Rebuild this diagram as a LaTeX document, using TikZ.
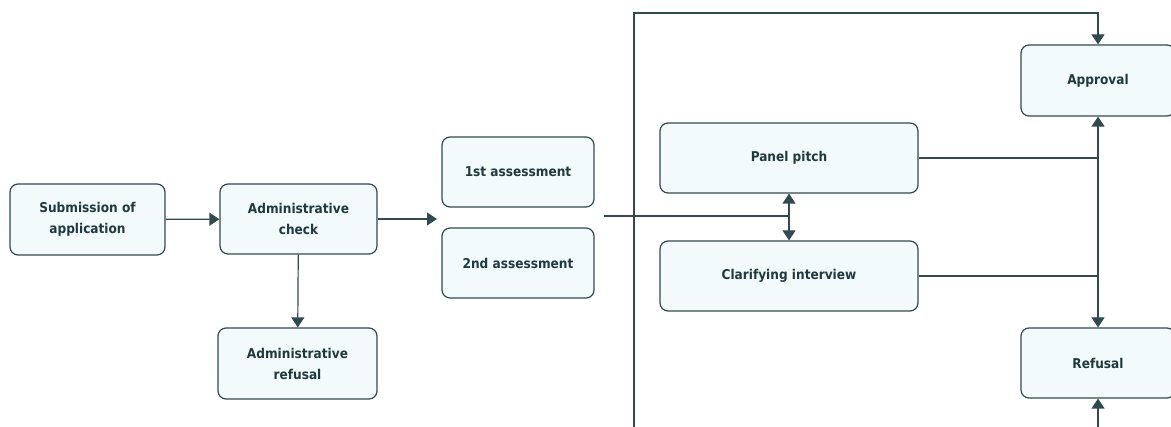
\documentclass[tikz,border=0pt]{standalone}
\usepackage{fontspec}
\setmainfont{DejaVu Sans Condensed}
\usetikzlibrary{arrows.meta}
\usepackage{xcolor}

\definecolor{boxline}{HTML}{2F4B4F}
\definecolor{boxfill}{HTML}{F2FAFC}
\definecolor{boxtext}{HTML}{1E3A3E}

\tikzset{
  stagebox/.style={draw=boxline, fill=boxfill, rounded corners=8pt, line width=1.2pt,
    text=boxtext, font=\bfseries\fontsize{13.5}{21}\selectfont, align=center, inner sep=0pt},
  link/.style={draw=boxline, line width=1.2pt},
  arr/.style={link, -{Triangle[width=13pt,length=10pt]}},
}

\begin{document}
\begin{tikzpicture}[x=1pt,y=-1pt]
        \useasboundingbox (0,0) rectangle (1171,427);

        \node[stagebox, minimum width=155pt, minimum height=71pt] (sub) at (87.5,219.5) {Submission of\\application};
        \node[stagebox, minimum width=157pt, minimum height=70pt] (chk) at (298.5,219) {Administrative\\check};
        \node[stagebox, minimum width=159pt, minimum height=71pt] (admref) at (297.5,363.5) {Administrative\\refusal};
        \node[stagebox, minimum width=152pt, minimum height=70pt] (ass1) at (518,172) {1st assessment};
        \node[stagebox, minimum width=152pt, minimum height=70pt] (ass2) at (518,263) {2nd assessment};
        \node[stagebox, minimum width=258pt, minimum height=70pt] (pitch) at (789,158) {Panel pitch};
        \node[stagebox, minimum width=258pt, minimum height=70pt] (clar) at (789,276) {Clarifying interview};
        \node[stagebox, minimum width=154pt, minimum height=71pt] (appr) at (1098,80.5) {Approval};
        \node[stagebox, minimum width=154pt, minimum height=70pt] (ref) at (1098,363) {Refusal};

        \coordinate (gapin) at (437,219);
        \coordinate (gapout) at (604,216);
        \coordinate (split) at (789,216);
        \coordinate (loopbot) at (634,427);
        \coordinate (looptop) at (634,13);
        \coordinate (apprtop) at (1098,13);
        \coordinate (jtop) at (1098,158);
        \coordinate (jbot) at (1098,276);
        \coordinate (refbot) at (1098,427);

        \draw[arr] (sub) -- (chk);
        \draw[arr] (chk) -- (gapin);
        \draw[arr] (chk) -- (admref);

        \draw[link] (gapout) -- (split);
        \draw[arr] (split) -- (pitch);
        \draw[arr] (split) -- (clar);

        \draw[arr] (loopbot) -- (looptop) -- (apprtop) -- (appr);

        \draw[link] (pitch) -- (jtop);
        \draw[link] (clar) -- (jbot);
        \draw[arr] (jtop) -- (appr);
        \draw[link] (jtop) -- (jbot);
        \draw[arr] (jbot) -- (ref);
        \draw[arr] (refbot) -- (ref);
    \end{tikzpicture}
\end{document}
